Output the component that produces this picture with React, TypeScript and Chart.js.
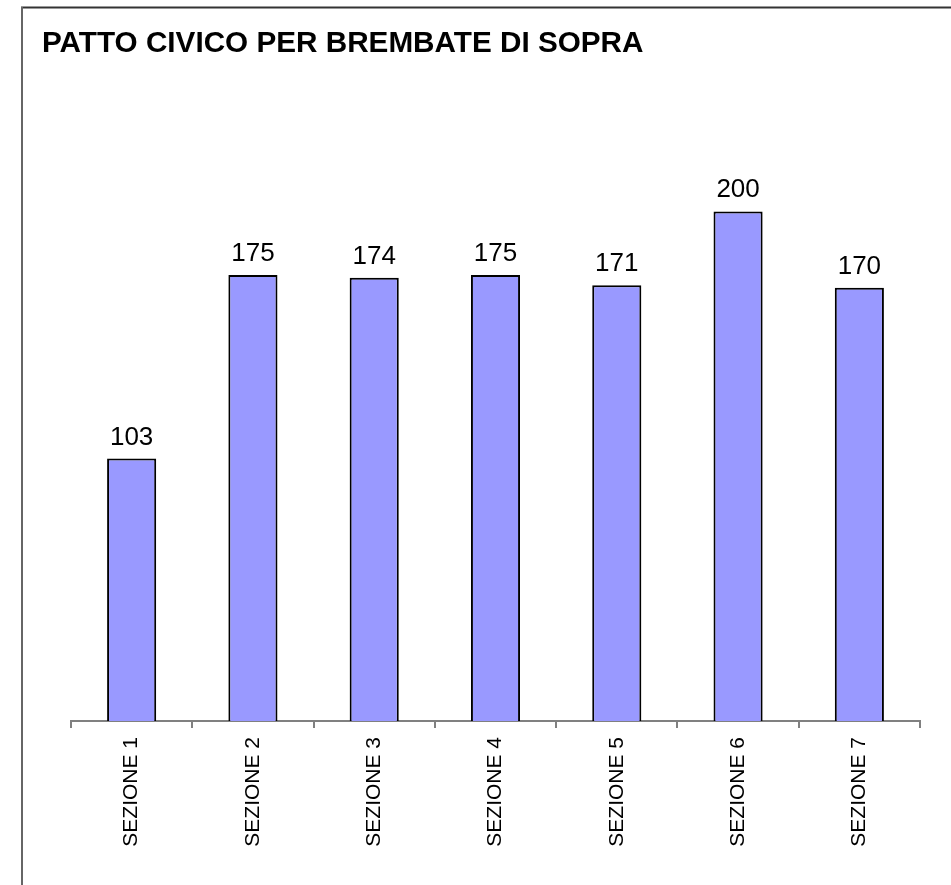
import React, { useEffect, useRef } from "react";
import { Chart, registerables } from "chart.js";

Chart.register(...registerables);

const TITLE = "PATTO CIVICO PER BREMBATE DI SOPRA";
const categories = ["SEZIONE 1", "SEZIONE 2", "SEZIONE 3", "SEZIONE 4", "SEZIONE 5", "SEZIONE 6", "SEZIONE 7"];
const votes = [103, 175, 174, 175, 171, 200, 170];

const FONT = "'Liberation Sans', Arial, sans-serif";

export default function App() {
  const ref = useRef<HTMLCanvasElement | null>(null);

  useEffect(() => {
    if (!ref.current) return;

    const framePlugin = {
      id: "frame",
      beforeDraw(chart: any) {
        const ctx = chart.ctx;
        ctx.save();
        ctx.fillStyle = "#ffffff";
        ctx.fillRect(0, 0, chart.width, chart.height);
        // top border
        ctx.strokeStyle = "#333333";
        ctx.lineWidth = 2;
        ctx.beginPath();
        ctx.moveTo(21, 7.5);
        ctx.lineTo(chart.width, 7.5);
        ctx.stroke();
        // left border
        ctx.strokeStyle = "#666666";
        ctx.lineWidth = 2;
        ctx.beginPath();
        ctx.moveTo(22, 7);
        ctx.lineTo(22, chart.height);
        ctx.stroke();
        // title
        ctx.fillStyle = "#000000";
        ctx.font = `bold 29.7px ${FONT}`;
        ctx.textAlign = "left";
        ctx.textBaseline = "alphabetic";
        ctx.fillText(TITLE, 42, 52);
        ctx.restore();
      },
      afterDatasetsDraw(chart: any) {
        const ctx = chart.ctx;
        const meta = chart.getDatasetMeta(0);
        ctx.save();
        ctx.fillStyle = "#000000";
        ctx.font = `26px ${FONT}`;
        ctx.textAlign = "center";
        ctx.textBaseline = "alphabetic";
        meta.data.forEach((bar: any, i: number) => {
          ctx.fillText(String(chart.data.datasets[0].data[i]), bar.x, bar.y - 14);
        });
        ctx.restore();
      },
    };

    const chart = new Chart(ref.current, {
      type: "bar",
      data: {
        labels: categories,
        datasets: [
          {
            data: votes,
            backgroundColor: "#9999ff",
            borderColor: "#000000",
            borderWidth: 2,
            barPercentage: 0.405,
            categoryPercentage: 1,
          },
        ],
      },
      options: {
        responsive: false,
        animation: false,
        layout: { padding: { left: 71, right: 31, top: 84, bottom: 0 } },
        plugins: {
          legend: { display: false },
          title: { display: false },
          tooltip: { enabled: false },
        },
        scales: {
          x: {
            offset: true,
            afterFit: (scale: any) => {
              scale.height = 164;
            },
            grid: {
              offset: true,
              drawOnChartArea: false,
              drawTicks: true,
              tickLength: 7,
              color: "#808080",
              lineWidth: 2,
            },
            border: { display: true, color: "#808080", width: 2 },
            ticks: {
              color: "#000000",
              font: { family: FONT, size: 21 },
              minRotation: 90,
              maxRotation: 90,
              padding: 9,
              autoSkip: false,
            },
          },
          y: {
            display: false,
            min: 0,
            max: 250,
          },
        },
      },
      plugins: [framePlugin],
    });

    return () => chart.destroy();
  }, []);

  return (
    <div style={{ position: "absolute", left: 0, top: 0, width: 951, height: 885 }}>
      <canvas ref={ref} width={951} height={885} style={{ display: "block" }} />
    </div>
  );
}
